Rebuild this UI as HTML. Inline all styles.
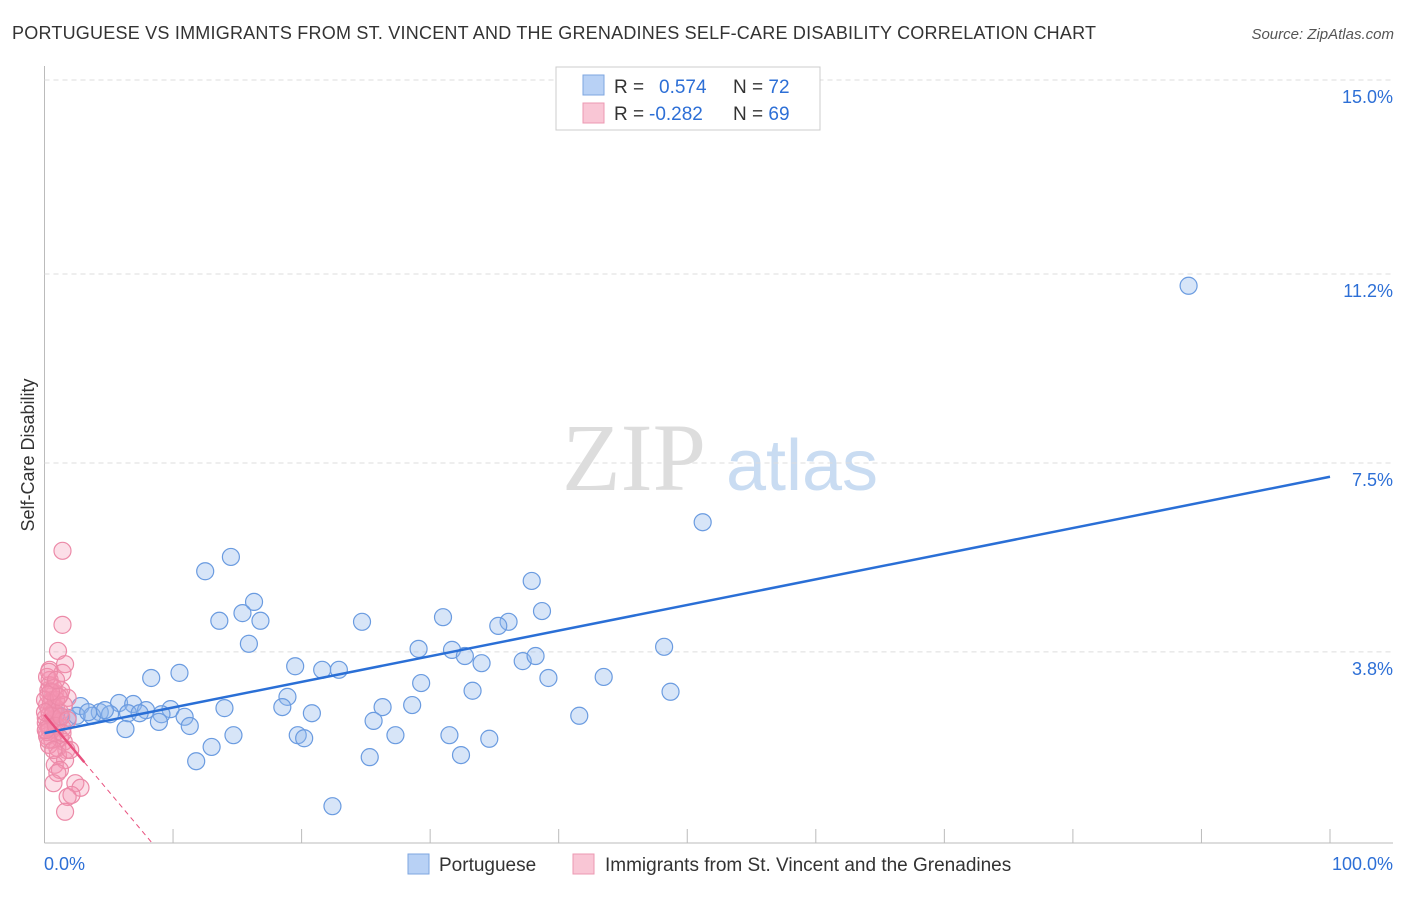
<!DOCTYPE html>
<html><head><meta charset="utf-8"><style>
body{margin:0;background:#fff;font-family:"Liberation Sans",sans-serif;}
</style></head><body>
<svg id="c" width="1406" height="892" xmlns="http://www.w3.org/2000/svg">
<text x="12" y="39" font-size="18" textLength="1084" fill="#333">PORTUGUESE VS IMMIGRANTS FROM ST. VINCENT AND THE GRENADINES SELF-CARE DISABILITY CORRELATION CHART</text>
<text x="1394" y="39" font-size="15" fill="#555" font-style="italic" text-anchor="end">Source: ZipAtlas.com</text>
<text x="634" y="490" font-size="96" fill="#ddd" font-family="Liberation Serif,serif" text-anchor="middle">ZIP</text>
<text x="802" y="490" font-size="72" fill="#c9dcf2" text-anchor="middle">atlas</text>
<text transform="translate(34,455) rotate(-90)" font-size="18" fill="#333" text-anchor="middle">Self-Care Disability</text>
<g id="grid"></g><g id="pts"></g><g id="lines"></g>
<rect x="556" y="67" width="264" height="63" fill="#fff" stroke="#ccc"/>
<rect x="583" y="75" width="21" height="20" fill="#b8d1f5" stroke="#7ea6e0"/>
<rect x="583" y="103" width="21" height="20" fill="#f9c6d5" stroke="#ec98b2"/>
<text x="614" y="93" font-size="19" fill="#333">R = <tspan x="659" fill="#2d6fd6">0.574</tspan><tspan x="733">N = </tspan><tspan fill="#2d6fd6">72</tspan></text>
<text x="614" y="120" font-size="19" fill="#333">R = <tspan x="649" fill="#2d6fd6">-0.282</tspan><tspan x="733">N = </tspan><tspan fill="#2d6fd6">69</tspan></text>
<rect x="408" y="854" width="21" height="20" fill="#b8d1f5" stroke="#7ea6e0"/>
<text x="439" y="871" font-size="19" fill="#333">Portuguese</text>
<rect x="573" y="854" width="21" height="20" fill="#f9c6d5" stroke="#ec98b2"/>
<text x="605" y="871" font-size="19" fill="#333">Immigrants from St. Vincent and the Grenadines</text>
</svg>
<script>
const yTicks=[3.8,7.5,11.2,15.0];
const yTickLabels=["3.8%","7.5%","11.2%","15.0%"];
const xTickLabels=["0.0%","100.0%"];
const blueX=[89.0,51.2,14.5,12.5,37.9,16.3,15.4,38.7,13.6,16.8,31.0,24.7,36.1,35.3,15.9,29.1,31.7,32.7,48.2,19.5,21.6,22.9,34.0,37.2,38.2,10.5,8.3,39.2,43.5,29.3,33.3,48.7,18.9,26.3,28.6,14.0,18.5,20.8,25.6,41.6,5.8,6.9,2.8,4.3,5.1,6.5,7.9,9.8,9.1,3.7,10.9,8.9,11.3,6.3,1.8,1.2,19.7,20.2,14.7,27.3,31.5,34.6,13.0,25.3,32.4,11.8,22.4,7.4,2.5,3.4,0.9,4.7];
const blueY=[10.97,6.34,5.66,5.38,5.19,4.78,4.56,4.60,4.41,4.41,4.48,4.39,4.39,4.31,3.96,3.86,3.84,3.72,3.90,3.52,3.45,3.45,3.58,3.62,3.72,3.39,3.29,3.29,3.31,3.19,3.04,3.02,2.92,2.72,2.76,2.70,2.72,2.60,2.45,2.55,2.80,2.78,2.74,2.62,2.58,2.60,2.66,2.68,2.58,2.55,2.53,2.43,2.35,2.29,2.51,2.55,2.17,2.11,2.17,2.17,2.17,2.10,1.94,1.74,1.78,1.66,0.78,2.60,2.55,2.62,2.58,2.66];
const pinkX=[1.4,1.4,1.05,1.6,0.4,1.4,0.4,0.3,0.8,1.2,1.8,0.6,0.2,0.9,1.2,0.4,0.1,0.7,1.05,0.3,1.4,0.4,0.8,0.2,1.2,0.6,1.5,0.35,1.0,1.7,1.05,1.6,0.8,1.2,1.0,2.4,2.8,0.7,2.1,1.8,1.6,0.4,0.7,0.3,0.5,0.35,0.7,0.1,0.4,0.2,0.6,0.9,0.04,0.2,0.35,1.3,1.5,2.0,0.9,1.3,1.8,0.3,0.7,1.1,0.5,0.04,0.1,1.4,0.9];
const pinkY=[5.78,4.33,3.82,3.56,3.45,3.39,3.25,3.05,3.0,2.96,2.90,2.86,2.76,2.70,2.62,2.57,2.51,2.47,2.43,2.37,2.31,2.27,2.21,2.15,2.11,2.08,2.04,1.98,1.92,1.88,1.78,1.68,1.59,1.49,1.43,1.23,1.14,1.23,1.0,0.96,0.67,3.15,3.09,2.96,2.80,2.66,2.62,2.41,2.33,2.23,2.55,2.86,2.86,3.31,3.41,3.05,2.76,1.88,2.35,2.53,2.47,2.08,1.88,2.92,3.02,2.62,2.27,2.21,3.25];
const blueTrend=[2.21,0.0502];
const pinkTrend=[2.57,-0.30];
const X=v=>44.5+v*12.855, Y=v=>846-v*51.07;
const NS="http://www.w3.org/2000/svg";
function mk(tag,attrs,parent){const e=document.createElementNS(NS,tag);for(const k in attrs)e.setAttribute(k,attrs[k]);document.getElementById(parent).appendChild(e);return e;}
let e;
e=mk('line',{x1:44.5,y1:66,x2:44.5,y2:843,stroke:'#bbb'},'grid');


e=mk('line',{x1:44.5,y1:843,x2:1393,y2:843,stroke:'#bbb'},'grid');


for(let i=1;i<=10;i++){e=mk('line',{x1:X(i*10),y1:829,x2:X(i*10),y2:843,stroke:'#bbb'},'grid');

}
yTicks.forEach((t,i)=>{e=mk('line',{x1:44.5,y1:Y(t),x2:1393,y2:Y(t),stroke:'#ddd','stroke-dasharray':'5,4'},'grid');


e=mk('text',{x:1393,y:Y(t)+23,'font-size':18,fill:'#2d6fd6','text-anchor':'end'},'grid');e.textContent=yTickLabels[i];

});
e=mk('text',{x:44,y:870,'font-size':18,fill:'#2d6fd6'},'grid');e.textContent=xTickLabels[0];


e=mk('text',{x:1393,y:870,'font-size':18,fill:'#2d6fd6','text-anchor':'end'},'grid');e.textContent=xTickLabels[1];


blueX.forEach((x,i)=>{e=mk('circle',{cx:X(x),cy:Y(blueY[i]),r:8.5,fill:'rgba(140,180,235,0.35)',stroke:'#6a9be0','stroke-width':1.2},'pts');

});
pinkX.forEach((x,i)=>{e=mk('circle',{cx:X(x),cy:Y(pinkY[i]),r:8.5,fill:'rgba(245,150,180,0.3)',stroke:'#ec8aa8','stroke-width':1.2},'pts');

});
e=mk('line',{x1:X(0),y1:Y(blueTrend[0]),x2:X(100),y2:Y(blueTrend[0]+100*blueTrend[1]),stroke:'#2a6fd6','stroke-width':2.5},'lines');


const pEnd=3.1, yAx=(846-843)/51.07, pZero=(yAx-pinkTrend[0])/pinkTrend[1];
e=mk('line',{x1:X(0),y1:Y(pinkTrend[0]),x2:X(pEnd),y2:Y(pinkTrend[0]+pEnd*pinkTrend[1]),stroke:'#e8507e','stroke-width':2.5},'lines');


e=mk('line',{x1:X(pEnd),y1:Y(pinkTrend[0]+pEnd*pinkTrend[1]),x2:X(pZero),y2:843,stroke:'#e8507e','stroke-width':1,'stroke-dasharray':'5,4'},'lines');


</script>
</body></html>
